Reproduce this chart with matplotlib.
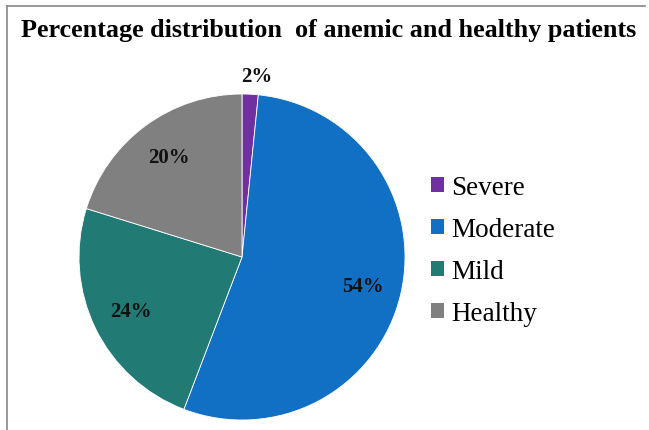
import matplotlib
matplotlib.use("Agg")
import matplotlib.pyplot as plt
from matplotlib.lines import Line2D
from matplotlib.patches import Patch

categories = ["Severe", "Moderate", "Mild", "Healthy"]
values = [1.6, 54.2, 24.0, 20.2]
colors = ["#7030A0", "#1170C4", "#217A74", "#808080"]
title = "Percentage distribution  of anemic and healthy patients"

plt.rcParams['font.family'] = ['Liberation Serif', 'DejaVu Serif']

W, H = 649, 431
fig = plt.figure(figsize=(W / 100, H / 100), dpi=100)

cx, cy, r = 242, 258, 163
ax = fig.add_axes([(cx - r) / W, (H - cy - r) / H, 2 * r / W, 2 * r / H])
wedges, texts, autotexts = ax.pie(values, colors=colors, startangle=90, counterclock=False,
                                  autopct='%.0f%%', pctdistance=0.76,
                                  wedgeprops=dict(linewidth=0.6, edgecolor='white'),
                                  textprops=dict(fontsize=15, fontweight='bold', color='#111111'))
autotexts[0].set_position((0.09, 1.11))
ax.set_xlim(-1, 1)
ax.set_ylim(-1, 1)
ax.set_aspect('equal')

fig.text(21 / W, 1 - 30 / H, title, fontsize=18.8, fontweight='bold', va='center', ha='left')

handles = [Patch(facecolor=c, edgecolor='none') for c in colors]
fig.legend(handles, categories, loc='upper left', bbox_to_anchor=(420 / W, 1 - 165 / H),
           frameon=False, fontsize=19.5, handlelength=0.5, handleheight=0.5,
           handletextpad=0.25, labelspacing=0.63, borderaxespad=0)

fig.add_artist(Line2D([7 / W, 7 / W], [0, 1 - 7 / H], color='#888888', linewidth=1.2))
fig.add_artist(Line2D([7 / W, 645 / W], [1 - 7 / H, 1 - 7 / H], color='#888888', linewidth=1.2))

fig.savefig("out.png", dpi=100)
